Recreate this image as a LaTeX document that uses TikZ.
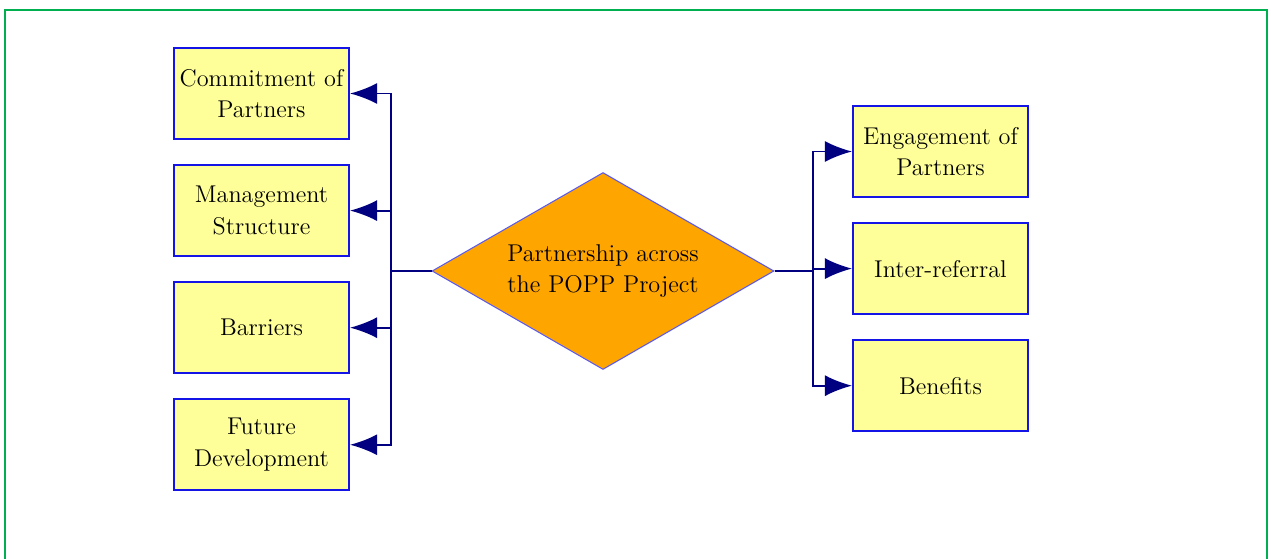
\documentclass[tikz,border=0pt]{standalone}
\usepackage{tikz}
\usetikzlibrary{positioning,arrows.meta,shapes.geometric}

\definecolor{boxfill}{RGB}{255,255,153}
\definecolor{boxline}{RGB}{20,20,230}
\definecolor{linknavy}{RGB}{0,0,128}
\definecolor{framegreen}{RGB}{0,176,80}
\definecolor{hubfill}{RGB}{255,165,0}

\begin{document}
\begin{tikzpicture}[
    x=0.02cm, y=-0.02cm,
    font=\fontsize{13.8}{18}\selectfont,
    theme/.style={draw=boxline, line width=1.2pt, fill=boxfill,
                  minimum width=3.5cm, minimum height=1.82cm,
                  inner sep=1pt, align=center},
    hub/.style={diamond, draw=boxline!70, line width=0.6pt, fill=hubfill,
                shape aspect=1.74, minimum width=6.84cm, minimum height=3.94cm,
                inner sep=0pt, align=center},
    op/.style={-{Latex[length=5.4mm, width=4.2mm]},
               draw=linknavy, line width=1.1pt},
  ]
  \useasboundingbox (0,0) rectangle (1271,558);
  % --- outer frame (open at the bottom) ---
  \draw[framegreen, line width=1.3pt] (5,570) -- (5,10) -- (1267,10) -- (1267,570);

  % --- central topic ---
  \node[hub] (popp) at (603,271) {Partnership across\\the POPP Project};

  % --- left column ---
  \node[theme] (c1) at (261.5,93.5) {Commitment of\\Partners};
  \node[theme, below=4.8mm of c1] (c2) {Management\\Structure};
  \node[theme, below=4.8mm of c2] (c3) {Barriers};
  \node[theme, below=4.8mm of c3] (c4) {Future\\Development};

  % --- right column ---
  \node[theme] (r1) at (940.5,151.5) {Engagement of\\Partners};
  \node[theme, below=4.8mm of r1] (r2) {Inter-referral};
  \node[theme, below=4.8mm of r2] (r3) {Benefits};

  % --- bus lines ---
  \coordinate (lbus) at (391,271);
  \coordinate (rbus) at (813,271);
  \foreach \n in {c1,c2,c3,c4}
    \draw[op] (popp.west) -- (lbus) |- (\n.east);
  \foreach \n in {r1,r2,r3}
    \draw[op] (popp.east) -- (rbus) |- (\n.west);
\end{tikzpicture}
\end{document}
